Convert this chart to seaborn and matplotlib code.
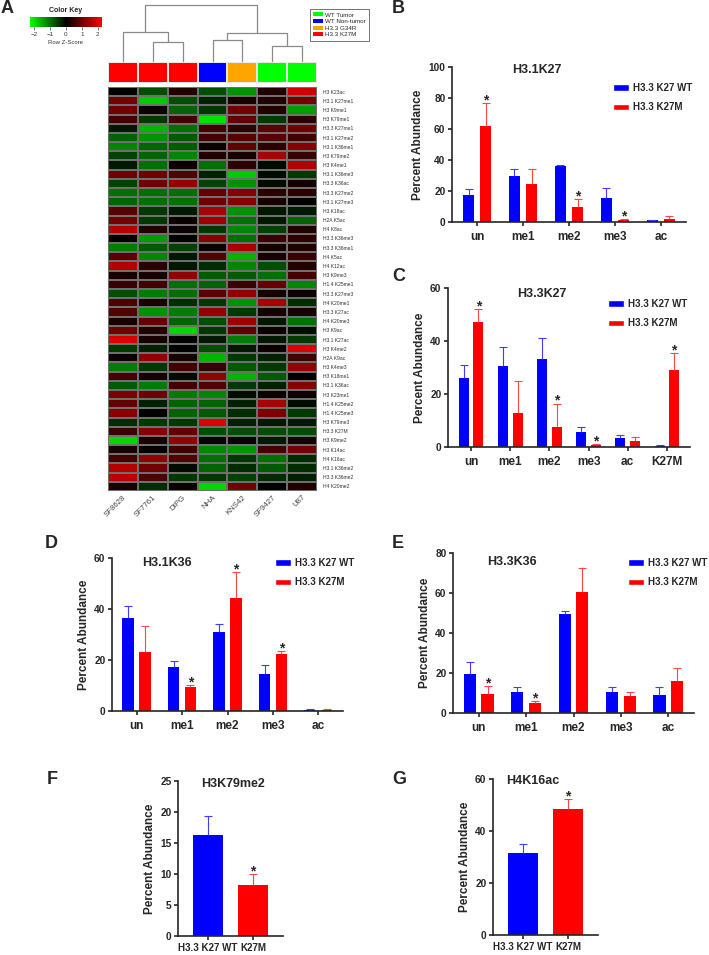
import numpy as np
import pandas as pd
import matplotlib
matplotlib.use('Agg')
import matplotlib.pyplot as plt
from matplotlib.colors import LinearSegmentedColormap, ListedColormap
from matplotlib.patches import Patch
import seaborn as sns

# ---------------- Panel A data ----------------
samples = ['SF8628', 'SF7761', 'DIPG', 'NHA', 'KNS42', 'SF9427', 'U87']
sample_groups = ['H3.3 K27M', 'H3.3 K27M', 'H3.3 K27M', 'WT Non-tumor',
                 'H3.3 G34R', 'WT Tumor', 'WT Tumor']
group_names = ['WT Tumor', 'WT Non-tumor', 'H3.3 G34R', 'H3.3 K27M']
group_colors = ['#00FF00', '#0000FF', '#FFA500', '#FF0000']
marks = ['H3 K23ac', 'H3.1 K27me1', 'H3 K9me1', 'H3 K79me1', 'H3.3 K27me1',
         'H3.1 K27me2', 'H3.1 K36me1', 'H3 K79me2', 'H3 K4me1', 'H3.1 K36me3',
         'H3.3 K36ac', 'H3.3 K27me2', 'H3.1 K27me3', 'H3 K18ac', 'H2A K5ac',
         'H4 K8ac', 'H3.3 K36me3', 'H3.3 K36me1', 'H4 K5ac', 'H4 K12ac',
         'H3 K9me3', 'H1.4 K25me1', 'H3.3 K27me3', 'H4 K20me1', 'H3.3 K27ac',
         'H4 K20me3', 'H3 K9ac', 'H3.1 K27ac', 'H3 K4me2', 'H2A K9ac',
         'H3 K4me3', 'H3 K18me1', 'H3.1 K36ac', 'H3 K23me1', 'H1.4 K25me2',
         'H1.4 K25me3', 'H3 K79me3', 'H3.3 K27M', 'H3 K9me2', 'H3 K14ac',
         'H4 K16ac', 'H3.1 K36me2', 'H3.3 K36me2', 'H4 K20me2']
zscores = [
    [0.0, -0.7, 0.3, -0.7, -1.3, 0.3, 1.8],
    [1.0, -1.8, -0.7, -0.3, 0.2, 0.3, 1.0],
    [1.0, 0.1, -0.9, -0.5, 1.0, 0.3, -1.4],
    [0.6, -0.5, 0.6, -2.0, 0.9, -0.5, 0.4],
    [-0.2, -1.6, -1.0, 0.6, 0.4, 0.8, 1.0],
    [-0.9, -1.3, -0.8, 0.6, 0.8, 0.8, 0.6],
    [-1.2, -0.9, -0.8, 0.1, 0.9, 0.4, 1.2],
    [-0.6, -0.9, -1.2, 0.3, 0.2, 1.5, 0.5],
    [-0.2, -1.0, 0.1, -1.0, 0.4, -0.1, 1.6],
    [1.0, 1.0, 0.7, -0.3, -1.8, -0.1, -0.5],
    [-0.6, 1.0, 1.3, -0.6, -1.3, -0.1, 0.2],
    [-1.0, -1.0, -1.0, 0.9, 1.2, 0.4, 0.4],
    [-0.9, -1.0, -1.0, 1.0, 1.2, 0.2, 0.0],
    [0.8, -0.5, -0.2, 1.5, -1.3, -0.2, -0.2],
    [1.0, -0.5, 0.1, 1.4, -1.0, -0.2, -0.9],
    [1.6, 0.3, 0.1, -0.5, -1.2, -0.6, 0.3],
    [0.0, -1.4, 0.0, 1.2, -1.0, 0.5, 0.4],
    [-1.1, -0.8, -0.6, 0.1, 1.5, 0.2, 0.3],
    [0.8, -1.2, -0.2, 0.7, -1.6, 0.2, 0.5],
    [1.6, 0.4, -0.2, -0.4, -1.2, -0.7, 0.3],
    [0.2, 0.2, 1.3, -0.8, -0.8, -1.0, 0.6],
    [0.5, 0.6, -1.0, -0.9, 0.5, 0.9, -1.2],
    [-0.7, -1.1, -1.0, 0.8, 1.3, 0.2, 0.1],
    [0.7, 0.2, -0.4, -0.5, -1.3, 1.5, -0.4],
    [0.7, -1.3, -1.1, 1.3, -0.5, 0.2, 0.2],
    [0.2, 0.9, -0.9, -0.7, 1.4, -0.2, -1.0],
    [1.0, 0.3, -1.9, -0.5, 0.8, 0.1, -0.1],
    [1.9, 0.2, 0.0, -0.2, -1.1, -0.2, -0.5],
    [-0.5, -0.3, 0.0, -0.7, -0.2, 0.1, 2.0],
    [0.1, 1.3, 0.2, -1.6, -0.5, -0.3, 0.6],
    [-1.1, -0.5, 0.6, 0.5, -0.8, -0.5, 1.3],
    [0.6, 0.2, -0.1, 1.3, -1.6, -0.8, 0.0],
    [-0.8, -1.1, 0.6, 0.7, -0.5, -0.3, 1.2],
    [1.1, 1.0, -1.1, -1.2, -0.1, 0.1, 0.1],
    [0.9, -0.3, -0.9, -0.9, -0.3, 1.5, -0.1],
    [1.2, 0.0, -0.9, -0.8, -0.4, 1.1, -0.5],
    [-0.4, -0.5, -0.5, 2.0, -0.3, -0.2, -0.2],
    [0.5, 1.2, 0.9, -0.7, -0.7, -0.7, -0.7],
    [-1.9, 0.2, 1.3, 0.1, 0.1, -0.2, 0.2],
    [0.2, 0.0, 0.6, -1.2, -1.3, 0.6, 1.0],
    [0.6, 1.3, 0.7, -1.0, -0.5, -1.0, -0.4],
    [1.6, 1.0, -0.1, -0.9, -0.4, -0.8, -0.4],
    [1.7, 0.7, -0.5, -0.5, -0.6, -0.4, -0.3],
    [0.2, -0.4, 0.1, -1.9, 1.0, 0.0, 0.3],
]
# dendrogram merges: (child id, child id, merge height); leaves 0..6, new ids from 7
dendro_links = [(1, 2, 19), (3, 4, 21), (5, 6, 15), (0, 7, 29), (8, 9, 28), (10, 11, 56)]
key_ticks = [-2, -1, 0, 1, 2]

# ---------------- Bar panel data ----------------
series_names = ['H3.3 K27 WT', 'H3.3 K27M']

b_cats = ['un', 'me1', 'me2', 'me3', 'ac']
b_wt = [17.2, 29.7, 36.0, 15.7, 1.0]
b_wt_err = [4.3, 4.3, 1.0, 6.5, 0.5]
b_mut = [62.0, 24.7, 9.5, 1.1, 2.1]
b_mut_err = [15.0, 9.3, 5.1, 1.0, 1.7]
b_stars = [0, 2, 3]

c_cats = ['un', 'me1', 'me2', 'me3', 'ac', 'K27M']
c_wt = [26.2, 30.5, 33.2, 5.5, 3.4, 0.2]
c_wt_err = [4.7, 7.1, 7.8, 1.9, 1.0, 0.4]
c_mut = [47.3, 12.8, 7.4, 0.6, 2.1, 29.0]
c_mut_err = [4.7, 12.0, 9.0, 0.5, 1.5, 6.6]
c_stars = [0, 2, 3, 5]

d_cats = ['un', 'me1', 'me2', 'me3', 'ac']
d_wt = [36.4, 17.2, 31.0, 14.5, 0.5]
d_wt_err = [4.9, 2.5, 3.2, 3.6, 0.2]
d_mut = [23.3, 9.3, 44.5, 22.2, 0.4]
d_mut_err = [9.9, 1.0, 10.0, 1.3, 0.2]
d_stars = [1, 2, 3]

e_cats = ['un', 'me1', 'me2', 'me3', 'ac']
e_wt = [19.7, 10.7, 49.5, 10.7, 9.0]
e_wt_err = [5.7, 2.5, 1.3, 2.5, 4.2]
e_mut = [9.3, 5.1, 60.5, 8.6, 15.8]
e_mut_err = [4.1, 1.0, 12.0, 2.1, 6.7]
e_stars = [0, 1]

fg_cats = ['H3.3 K27 WT', 'K27M']
f_vals = [16.3, 8.3]
f_err = [3.0, 1.75]
g_vals = [31.5, 48.5]
g_err = [3.5, 3.8]

BLUE, RED = '#0000FF', '#FF0000'
ERRC = ['#3d3dff', '#ff4545']

# ---------------- Figure ----------------
sns.set_style('ticks')
plt.rcParams['font.family'] = ['Liberation Sans', 'DejaVu Sans']
W, H = 709, 955
fig = plt.figure(figsize=(W / 100, H / 100), dpi=100)


def rect(x0, y0, x1, y1):
    return [x0 / W, 1 - y1 / H, (x1 - x0) / W, (y1 - y0) / H]


# ---- Heatmap ----
cmap = LinearSegmentedColormap.from_list('gkr', ['#00FF00', '#000000', '#FF0000'])
ax_h = fig.add_axes(rect(108, 87, 317, 491))
cax = fig.add_axes(rect(30, 17, 102, 27))
zdf = pd.DataFrame(zscores, index=marks, columns=samples)
sns.heatmap(zdf, cmap=cmap, vmin=-2.27, vmax=2.27, ax=ax_h, cbar=True, cbar_ax=cax,
            cbar_kws={'orientation': 'horizontal'}, linewidths=0.25, linecolor='#6f6f6f',
            xticklabels=samples, yticklabels=marks)
ax_h.yaxis.tick_right()
ax_h.tick_params(axis='y', length=0, pad=4.3, labelsize=3.6, labelrotation=0, labelcolor='#333333')
ax_h.tick_params(axis='x', length=0, pad=2, labelsize=5.6, labelcolor='#444444')
for lab in ax_h.get_xticklabels():
    lab.set_rotation(45)
    lab.set_ha('right')
    lab.set_rotation_mode('anchor')
ax_h.set_xlabel('')
ax_h.set_ylabel('')

cbar = ax_h.collections[0].colorbar
cbar.set_ticks(key_ticks)
cbar.ax.tick_params(labelsize=4.5, length=2.2, width=0.5, pad=1.5, colors='#333333')
cbar.outline.set_visible(False)
cax.set_title('Color Key', fontsize=5, fontweight='bold', pad=3.5, color='#222222')
cax.set_xlabel('Row Z-Score', fontsize=4.3, labelpad=2, color='#333333')

# group colour strip
ax_c = fig.add_axes(rect(108, 62, 317, 83))
codes = np.array([[group_names.index(g) for g in sample_groups]])
sns.heatmap(codes, cmap=ListedColormap(group_colors), vmin=-0.5, vmax=len(group_names) - 0.5,
            cbar=False, ax=ax_c, xticklabels=False, yticklabels=False,
            linewidths=0.3, linecolor='#e8e8e8')

# dendrogram
ax_d = fig.add_axes(rect(108, 5, 317, 61))
pos = {i: i + 0.5 for i in range(len(samples))}
hgt = {i: 0 for i in range(len(samples))}
nid = len(samples)
for a, b, h in dendro_links:
    ax_d.plot([pos[a], pos[a], pos[b], pos[b]], [hgt[a], h, h, hgt[b]],
              color='#8a8a8a', lw=0.9, clip_on=False)
    pos[nid] = (pos[a] + pos[b]) / 2
    hgt[nid] = h
    nid += 1
ax_d.set_xlim(0, len(samples))
ax_d.set_ylim(0, max(l[2] for l in dendro_links))
ax_d.axis('off')

leg_a = fig.legend(handles=[Patch(facecolor=c, edgecolor='none', label=n)
                            for n, c in zip(group_names, group_colors)],
                   loc='upper left', bbox_to_anchor=(310 / W, 1 - 9 / H), fontsize=4.5,
                   frameon=True, fancybox=False, edgecolor='#333333', handlelength=1.45,
                   handleheight=0.55, labelspacing=0.25, borderpad=0.55, handletextpad=0.45,
                   borderaxespad=0)
leg_a.get_frame().set_linewidth(0.6)


# ---- Bar panels ----
def style_axes(ax, ymax, ystep):
    ax.set_ylim(0, ymax)
    ax.set_yticks(np.arange(0, ymax + 0.01, ystep))
    sns.despine(ax=ax)
    for s in ['left', 'bottom']:
        ax.spines[s].set_linewidth(1.2)
    ax.tick_params(axis='both', width=1.2, length=3.2, direction='out')
    ax.tick_params(axis='y', labelsize=7.3, pad=1.5)
    for lab in ax.get_yticklabels():
        lab.set_fontweight('bold')
    ax.set_xlabel('')
    ax.set_ylabel('Percent Abundance', fontsize=8.5, fontweight='bold', labelpad=3)


def add_err(ax, x, h, e, color, star):
    ax.plot([x, x], [h, h + e], color=color, lw=0.8, solid_capstyle='butt')
    ax.plot([x], [h + e], marker='_', markersize=5.5, mew=0.8, color=color)
    if star:
        ax.annotate('*', (x, h + e), xytext=(0, -1), textcoords='offset points',
                    ha='center', va='baseline', fontsize=10, fontweight='bold')


def grouped_panel(r, cats, wt, wt_e, mut, mut_e, stars, ymax, ystep, title, txy, legxy):
    ax = fig.add_axes(r)
    df = pd.DataFrame({'cat': cats * 2,
                       'grp': [series_names[0]] * len(cats) + [series_names[1]] * len(cats),
                       'val': wt + mut})
    sns.barplot(data=df, x='cat', y='val', hue='grp', palette=[BLUE, RED], width=0.74,
                gap=0.31, errorbar=None, saturation=1, legend=False, ax=ax, linewidth=0)
    for ci, (cont, errs) in enumerate(zip(ax.containers, [wt_e, mut_e])):
        for i, (bar, e) in enumerate(zip(cont, errs)):
            x = bar.get_x() + bar.get_width() / 2
            add_err(ax, x, bar.get_height(), e, ERRC[ci], ci == 1 and i in stars)
    style_axes(ax, ymax, ystep)
    ax.tick_params(axis='x', labelsize=8.5, pad=3)
    for lab in ax.get_xticklabels():
        lab.set_fontweight('bold')
    ax.text(txy[0], txy[1], title, transform=ax.transAxes, ha='center', va='center',
            fontsize=9, fontweight='bold')
    ax.legend(handles=[Patch(facecolor=BLUE, label=series_names[0]),
                       Patch(facecolor=RED, label=series_names[1])],
              loc='upper left', bbox_to_anchor=(legxy[0] / W, 1 - legxy[1] / H),
              bbox_transform=fig.transFigure, frameon=False,
              prop={'weight': 'bold', 'size': 7}, handlelength=1.6, handleheight=0.65,
              handletextpad=0.45, labelspacing=0.95, borderpad=0, borderaxespad=0)
    return ax


def single_panel(r, vals, errs, ymax, ystep, title, txy):
    ax = fig.add_axes(r)
    sns.barplot(x=fg_cats, y=vals, hue=fg_cats, palette=[BLUE, RED], width=0.67,
                errorbar=None, saturation=1, legend=False, ax=ax, linewidth=0)
    bars = [p for cont in ax.containers for p in cont]
    for i, (bar, e) in enumerate(zip(bars, errs)):
        x = bar.get_x() + bar.get_width() / 2
        add_err(ax, x, bar.get_height(), e, ERRC[i], i == 1)
    ax.set_xlim(-0.67, len(fg_cats) - 1 + 0.67)
    style_axes(ax, ymax, ystep)
    ax.tick_params(axis='x', labelsize=7, pad=2)
    for lab in ax.get_xticklabels():
        lab.set_fontweight('bold')
    ax.text(txy[0], txy[1], title, transform=ax.transAxes, ha='center', va='center',
            fontsize=9, fontweight='bold')
    return ax


grouped_panel(rect(452, 67, 686, 222), b_cats, b_wt, b_wt_err, b_mut, b_mut_err, b_stars,
              100, 20, 'H3.1K27', (0.363, 0.98), (613, 83))
grouped_panel(rect(448, 288, 690, 447), c_cats, c_wt, c_wt_err, c_mut, c_mut_err, c_stars,
              60, 20, 'H3.3K27', (0.388, 0.962), (608, 299))
grouped_panel(rect(112, 558, 343, 711), d_cats, d_wt, d_wt_err, d_mut, d_mut_err, d_stars,
              60, 20, 'H3.1K36', (0.238, 0.967), (275, 558))
grouped_panel(rect(453, 553, 694, 713), e_cats, e_wt, e_wt_err, e_mut, e_mut_err, e_stars,
              80, 20, 'H3.3K36', (0.245, 0.944), (628, 558))
single_panel(rect(178, 781, 283, 936), f_vals, f_err, 25, 5, 'H3K79me2', (0.524, 0.98))
single_panel(rect(493, 779, 598, 935), g_vals, g_err, 60, 20, 'H4K16ac', (0.38, 0.987))

# panel letters
for letter, (x, y) in zip('ABCDEFG', [(1, 0), (392, 0), (392, 268), (45, 535),
                                       (392, 535), (47, 771), (392, 771)]):
    fig.text(x / W, 1 - y / H, letter, fontsize=13, fontweight='bold', ha='left', va='top')

fig.savefig('out.png', dpi=100)
